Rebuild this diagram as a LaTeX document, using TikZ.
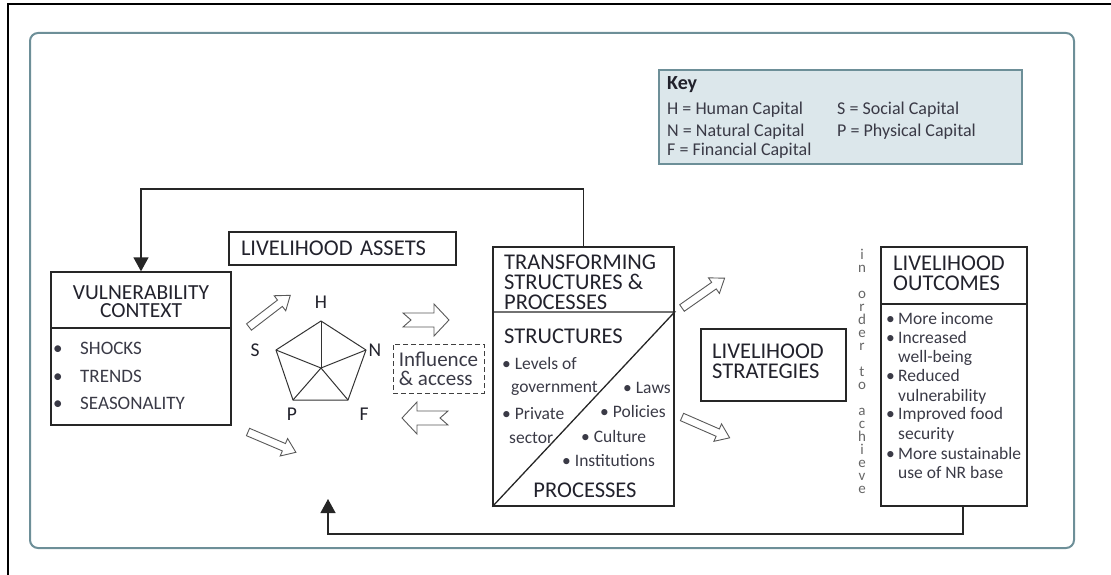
\documentclass[tikz,border=0pt]{standalone}
\usepackage{fontspec}
\setmainfont{Carlito}
\usepackage{tikz}
\usetikzlibrary{arrows.meta, positioning, calc}
\definecolor{FrameTeal}{HTML}{6D8F98}
\definecolor{KeyFill}{HTML}{DCE7EB}
\definecolor{InkDark}{HTML}{22222C}
\definecolor{InkSoft}{HTML}{3A3A46}
\newcommand{\headfont}{\fontsize{22.5}{20}\selectfont}
\newcommand{\itemfont}{\fontsize{17.5}{19.3}\selectfont}

\begin{document}
\begin{tikzpicture}[x=1pt, y=-1pt,
  box/.style={draw=black!85, line width=1.3pt},
  head/.style={font=\headfont, text=InkDark, inner sep=0pt, align=left},
  item/.style={font=\itemfont, text=InkSoft, inner sep=0pt, anchor=base west},
  capital/.style={font=\fontsize{19.5}{19.5}\selectfont, text=InkDark, inner sep=0pt},
  feedback/.style={draw=black!85, line width=1.3pt, -{Triangle[length=14pt, width=15pt]}},
  pics/hollow/.style={code={
    \draw[black!65, line width=0.9pt, fill=white, line join=miter]
      (0,-4) -- (39,-4) -- (39,-9.5) -- (52,0) -- (39,9.5) -- (39,4) -- (0,4) -- cycle;}},
  pics/notched/.style={code={
    \draw[black!65, line width=0.9pt, fill=white, line join=miter]
      (0,-7) -- (31,-7) -- (31,-16) -- (46,0) -- (31,16) -- (31,7) -- (0,7) -- (8,0) -- cycle;}},
]
\useasboundingbox (0,0) rectangle (1111,575);

% frames
\draw[black, line width=2.5pt] (8,575) -- (8,4) -- (1111,4);
\draw[FrameTeal, line width=2pt, rounded corners=8pt] (30,33) rectangle (1074,548);

% key
\node[draw=FrameTeal, fill=KeyFill, line width=1.2pt, minimum width=363pt,
      minimum height=94pt, inner sep=0pt] (key) at (840.5,117) {};
\node[item, font=\bfseries\fontsize{20}{20}\selectfont, text=InkDark] (keyhead) at (667,90) {Key};
\node[item, font=\fontsize{18}{18}\selectfont] (keyH) at (667,115) {H = Human Capital};
\node[item, font=\fontsize{18}{18}\selectfont] (keyN) at (667,136) {N = Natural Capital};
\node[item, font=\fontsize{18}{18}\selectfont] (keyF) at (667,156) {F = Financial Capital};
\node[item, font=\fontsize{18}{18}\selectfont] (keyS) at (837,115) {S = Social Capital};
\node[item, font=\fontsize{18}{18}\selectfont] (keyP) at (837,136) {P = Physical Capital};

% vulnerability context
\node[box, minimum width=180pt, minimum height=153pt, inner sep=0pt] (vuln) at (141,348.5) {};
\draw[box] (vuln.west |- 0,328) -- (vuln.east |- 0,328);
\node[head, align=center, font=\fontsize{21.5}{18}\selectfont] (vulnhead) at (141,302)
  {VULNERABILITY\\CONTEXT};
\foreach \y/\t [count=\k] in {354/SHOCKS, 382/TRENDS, 409/SEASONALITY} {
  \node[item, font=\fontsize{19}{19}\selectfont] (vb\k) at (53,\y) {\textbullet};
  \node[item, font=\fontsize{19}{19}\selectfont] (vi\k) at (80,\y) {\t};
}

% livelihood assets
\node[box, head, inner xsep=12pt, text width=203pt, minimum height=33pt] (assets)
  at (342.5,248.5) {LIVELIHOOD ASSETS};

% asset pentagon
\coordinate (hub) at (321,368);
\coordinate (vH) at (321,321);
\coordinate (vN) at (366,350);
\coordinate (vF) at (348,400);
\coordinate (vP) at (293,400);
\coordinate (vS) at (276,350);
\draw[black!80, line width=1pt, line join=round] (vH) -- (vN) -- (vF) -- (vP) -- (vS) -- cycle;
\foreach \v in {vH,vN,vF,vP,vS}
  \draw[black!80, line width=1pt] (hub) -- (\v);
\node[capital] (lH) at (321,302) {H};
\node[capital] (lN) at (375,350) {N};
\node[capital] (lF) at (364,414) {F};
\node[capital] (lP) at (292,414) {P};
\node[capital] (lS) at (255,350) {S};

% influence & access
\node[draw=black!75, line width=1pt, dash pattern=on 5pt off 3pt, minimum width=91pt,
      minimum height=49pt, inner sep=0pt] (infl) at (438.5,368.5) {};
\node[font=\fontsize{21}{19}\selectfont, text=InkSoft, align=left, inner sep=0pt]
  (infltext) at (infl) {Influence\\\& access};

% hollow arrows
\pic[rotate=37.5] (upleft) at (249,327) {hollow};
\pic[rotate=-23] (downleft) at (248,432) {hollow};
\pic (totrans) at (403,320) {notched};
\pic[rotate=180] (toassets) at (448,418) {notched};
\pic[rotate=35] (upright) at (682,308) {hollow};
\pic[rotate=-23.6] (downright) at (682,417) {hollow};

% transforming structures & processes
\node[box, minimum width=181pt, minimum height=259pt, inner sep=0pt] (trans) at (583.5,376.5) {};
\coordinate (tdiv) at (trans.east |- 0,312);
\draw[box] (trans.west |- tdiv) -- (tdiv) -- (trans.south west);
\node[head, anchor=west] (transhead) at (504,282) {TRANSFORMING\\STRUCTURES \&\\PROCESSES};
\node[head, anchor=west] (structs) at (504,336) {STRUCTURES};
\node[head] (procs) at (585,490) {PROCESSES};
\node[item] (tl1) at (502,369) {\textbullet{} Levels of};
\node[item] (tl2) at (511,392) {government};
\node[item] (tl3) at (502,419) {\textbullet{} Private};
\node[item] (tl4) at (509,443) {sector};
\node[item] (tr1) at (623,393) {\textbullet{} Laws};
\node[item] (tr2) at (600,417) {\textbullet{} Policies};
\node[item] (tr3) at (581,442) {\textbullet{} Culture};
\node[item] (tr4) at (562,466) {\textbullet{} Institutions};

% livelihood strategies
\node[box, minimum width=145pt, minimum height=72pt, inner sep=0pt] (strat) at (773.5,365) {};
\node[head, anchor=west] (strathead) at (712,361) {LIVELIHOOD\\STRATEGIES};

% in order to achieve
\foreach \l/\k in {i/0,n/1,o/3,r/4,d/5,e/6,r/7,t/9,o/10,a/12,c/13,h/14,i/15,e/16,v/17,e/18}
  \node[font=\fontsize{15}{15}\selectfont, text=black!60, inner sep=0pt, anchor=base]
    (ord\k) at (862,{259+13*\k}) {\l};

% livelihood outcomes
\node[box, minimum width=146pt, minimum height=259pt, inner sep=0pt] (outc) at (954,376.5) {};
\draw[box] (outc.west |- 0,304) -- (outc.east |- 0,304);
\node[head, anchor=west] (outchead) at (893,273) {LIVELIHOOD\\OUTCOMES};
\foreach \y in {324,343,381,419,459}
  \node[item] (ob\y) at (886,\y) {\textbullet};
\foreach \y/\t in {324/More income, 343/Increased, 362/well-being, 381/Reduced,
                   401/vulnerability, 419/Improved food, 439/security,
                   459/More sustainable, 478/use of NR base}
  \node[item] (oi\y) at (898,\y) {\t};

% feedback loops
\draw[feedback] (trans.north) -- (trans.north |- 0,189) -| (vuln.north);
\coordinate (loopend) at (328,499);
\draw[feedback] ([xshift=9pt]outc.south) |- (loopend |- 0,534) -- (loopend);
\end{tikzpicture}
\end{document}
